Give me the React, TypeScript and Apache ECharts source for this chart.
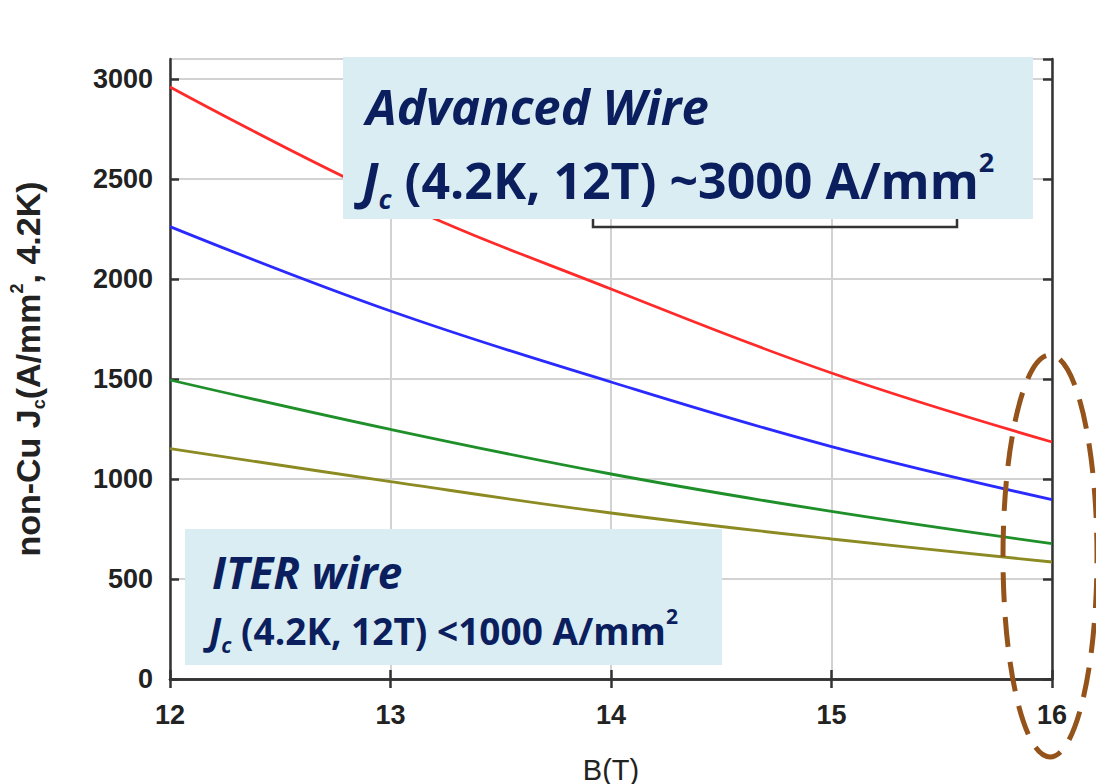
import React, { useEffect, useRef } from "react";
import * as echarts from "echarts";

const B_VALUES = [12, 13, 14, 15, 16];
const RED = [2960, 2400, 1950, 1530, 1185];
const BLUE = [2262, 1840, 1485, 1162, 897];
const GREEN = [1495, 1248, 1025, 838, 677];
const OLIVE = [1152, 987, 830, 700, 585];
const SERIES_COLORS = ["#ff2a2a", "#2a2aff", "#1f8f2a", "#8c8a22"];
const X_NAME = "B(T)";

const pairs = (ys: number[]) => B_VALUES.map((b, i) => [b, ys[i]]);

export default function App() {
  const ref = useRef<HTMLDivElement>(null);
  useEffect(() => {
    if (!ref.current) return;
    const chart = echarts.init(ref.current, null, { renderer: "svg" });
    const axisLineStyle = { color: "#333", width: 2.5 };
    const navy = "#0b1f5e";
    const boxFill = "#daedf3";
    const tf = "'Open Sans', 'Noto Sans', sans-serif";
    const af = "Liberation Sans, Arial, sans-serif";
    chart.setOption({
      animation: false,
      backgroundColor: "#fff",
      grid: { left: 170, right: 44, top: 59, bottom: 105, containLabel: false, outerBoundsMode: "none" },
      xAxis: [
        {
          type: "value",
          min: 12,
          max: 16,
          interval: 1,
          name: X_NAME,
          nameLocation: "middle",
          nameGap: 76,
          nameTextStyle: { fontFamily: af, fontSize: 29, color: "#222", lineHeight: 29 },
          axisLine: { show: true, lineStyle: axisLineStyle },
          axisTick: { show: true, inside: true, length: 9, lineStyle: { color: "#333", width: 2.5 } },
          axisLabel: { fontFamily: af, fontWeight: "bold", fontSize: 27, color: "#222", margin: 22, formatter: (v: number) => String(v) },
          splitLine: { show: true, lineStyle: { color: "#d2d2d2", width: 2 } },
        },
        {
          type: "value",
          min: 12,
          max: 16,
          interval: 1,
          position: "top",
          axisLine: { show: true, lineStyle: axisLineStyle },
          axisTick: { show: true, inside: true, length: 9, lineStyle: { color: "#333", width: 2.5 } },
          axisLabel: { show: false },
          splitLine: { show: false },
        },
      ],
      yAxis: [
        {
          type: "value",
          min: 0,
          max: 3100,
          interval: 500,
          name: "{a|non-Cu J}{sub|c}{a|(A/mm}{sup|2}{a|, 4.2K)}",
          nameLocation: "middle",
          nameGap: 122,
          nameRotate: 90,
          nameTextStyle: {
            rich: {
              a: { fontFamily: af, fontWeight: "bold", fontSize: 34, color: "#222", lineHeight: 40, verticalAlign: "middle" },
              sub: { fontFamily: af, fontWeight: "bold", fontSize: 18, color: "#222", lineHeight: 40, verticalAlign: "bottom" },
              sup: { fontFamily: af, fontWeight: "bold", fontSize: 18, color: "#222", lineHeight: 40, verticalAlign: "top" },
            },
          },
          axisLine: { show: true, lineStyle: axisLineStyle },
          axisTick: { show: true, inside: true, length: 9, lineStyle: { color: "#333", width: 2.5 } },
          axisLabel: { fontFamily: af, fontWeight: "bold", fontSize: 27, color: "#222", margin: 17, showMaxLabel: false, formatter: (v: number) => String(v) },
          splitLine: { show: true, lineStyle: { color: "#d2d2d2", width: 2 } },
        },
        {
          type: "value",
          min: 0,
          max: 3100,
          interval: 500,
          position: "right",
          axisLine: { show: true, lineStyle: axisLineStyle },
          axisTick: { show: true, inside: true, length: 9, lineStyle: { color: "#333", width: 2.5 } },
          axisLabel: { show: false },
          splitLine: { show: false },
        },
      ],
      series: [RED, BLUE, GREEN, OLIVE].map((d, i) => ({
        type: "line",
        data: pairs(d),
        smooth: 0.4,
        showSymbol: false,
        symbol: "none",
        lineStyle: { color: SERIES_COLORS[i], width: 2.8 },
        z: 3,
      })),
      graphic: [
        {
          type: "polyline",
          shape: { points: [[593, 219], [593, 227], [957, 227], [957, 219]] },
          style: { stroke: "#333", lineWidth: 2.5, fill: "none" },
          z: 50,
        },
        {
          type: "rect",
          shape: { x: 343, y: 57, width: 690, height: 162 },
          style: { fill: boxFill },
          z: 60,
        },
        {
          type: "text",
          x: 366,
          y: 106,
          style: {
            text: "Advanced Wire",
            fontFamily: tf,
            fontStyle: "italic",
            fontWeight: "bold",
            fontSize: 49,
            fill: navy,
            verticalAlign: "middle",
          },
          z: 61,
        },
        {
          type: "text",
          x: 362,
          y: 180,
          style: {
            text: "{j|J}{c|c}{n| (4.2K, 12T) ~3000 A/mm}{s|2}",
            verticalAlign: "middle",
            rich: {
              j: { fontFamily: tf, fontStyle: "italic", fontWeight: "bold", fontSize: 50, fill: navy, lineHeight: 64, verticalAlign: "middle" },
              c: { fontFamily: tf, fontStyle: "italic", fontWeight: "bold", fontSize: 27, fill: navy, lineHeight: 64, verticalAlign: "bottom" },
              n: { fontFamily: tf, fontWeight: "bold", fontSize: 50, fill: navy, lineHeight: 64, verticalAlign: "middle" },
              s: { fontFamily: tf, fontWeight: "bold", fontSize: 27, fill: navy, lineHeight: 64, verticalAlign: "top" },
            },
          },
          z: 61,
        },
        {
          type: "rect",
          shape: { x: 185, y: 529, width: 537, height: 136 },
          style: { fill: boxFill },
          z: 60,
        },
        {
          type: "text",
          x: 212,
          y: 572,
          style: {
            text: "ITER wire",
            fontFamily: tf,
            fontStyle: "italic",
            fontWeight: "bold",
            fontSize: 44,
            fill: navy,
            verticalAlign: "middle",
          },
          z: 61,
        },
        {
          type: "text",
          x: 209,
          y: 630,
          style: {
            text: "{j|J}{c|c}{n| (4.2K, 12T) <1000 A/mm}{s|2}",
            verticalAlign: "middle",
            rich: {
              j: { fontFamily: tf, fontStyle: "italic", fontWeight: "bold", fontSize: 37, fill: navy, lineHeight: 50, verticalAlign: "middle" },
              c: { fontFamily: tf, fontStyle: "italic", fontWeight: "bold", fontSize: 21, fill: navy, lineHeight: 50, verticalAlign: "bottom" },
              n: { fontFamily: tf, fontWeight: "bold", fontSize: 37, fill: navy, lineHeight: 50, verticalAlign: "middle" },
              s: { fontFamily: tf, fontWeight: "bold", fontSize: 21, fill: navy, lineHeight: 50, verticalAlign: "top" },
            },
          },
          z: 61,
        },
        {
          type: "ellipse",
          shape: { cx: 1050, cy: 556, rx: 47, ry: 201 },
          style: { fill: "none", stroke: "#94531a", lineWidth: 5, lineDash: [30, 15] },
          z: 70,
        },
      ],
    });
    return () => chart.dispose();
  }, []);
  return (
    <div
      ref={ref}
      style={{ position: "fixed", left: 0, top: 0, width: 1096, height: 784, background: "#fff" }}
    />
  );
}
